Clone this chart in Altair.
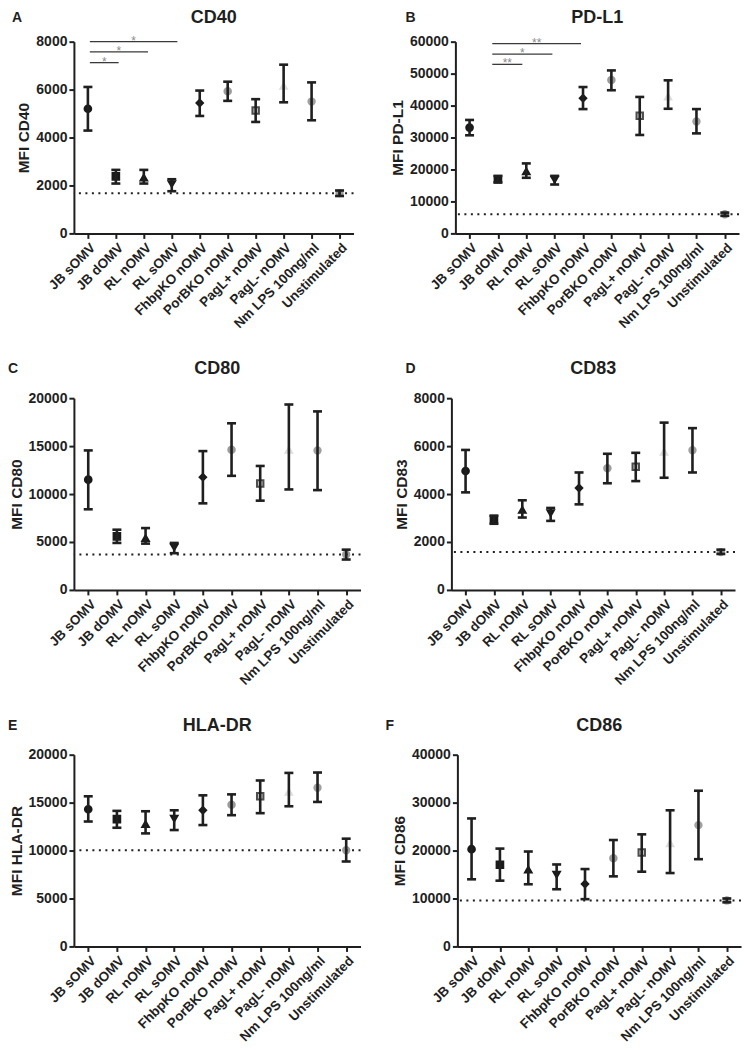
import json
import altair as alt
import pandas as pd

categories = ["JB sOMV", "JB dOMV", "RL nOMV", "RL sOMV", "FhbpKO nOMV",
              "PorBKO nOMV", "PagL+ nOMV", "PagL- nOMV", "Nm LPS 100ng/ml", "Unstimulated"]

# ---- values (mean, lower and upper error) ----
cd40_mean = [5200, 2380, 2330, 2060, 5440, 5930, 5130, 6150, 5500, 1680]
cd40_low = [4290, 2080, 2080, 1760, 4900, 5530, 4650, 5470, 4720, 1560]
cd40_high = [6110, 2650, 2650, 2260, 5960, 6330, 5600, 7040, 6300, 1790]

pdl1_mean = [33100, 16900, 19400, 16800, 42300, 48000, 36800, 42800, 35000, 6000]
pdl1_low = [30700, 16000, 17400, 15300, 38900, 44800, 30800, 39000, 31300, 5500]
pdl1_high = [35500, 18000, 21900, 18000, 45800, 51000, 42700, 47900, 38900, 6500]

cd80_mean = [11500, 5590, 5410, 4450, 11760, 14620, 11100, 14600, 14550, 3690]
cd80_low = [8410, 4900, 4830, 3830, 9030, 11900, 9310, 10480, 10410, 3170]
cd80_high = [14550, 6280, 6450, 4900, 14480, 17380, 12930, 19340, 18620, 4200]

cd83_mean = [4960, 2940, 3340, 3200, 4250, 5080, 5140, 5760, 5830, 1580]
cd83_low = [4070, 2760, 3020, 2880, 3570, 4450, 4540, 4680, 4900, 1500]
cd83_high = [5840, 3100, 3740, 3420, 4900, 5680, 5720, 6980, 6750, 1680]

hla_mean = [14310, 13280, 12760, 13340, 14200, 14790, 15660, 16100, 16550, 10030]
hla_low = [13030, 12380, 11790, 12140, 12660, 13690, 13900, 14620, 15070, 8860]
hla_high = [15660, 14140, 14100, 14200, 15760, 15860, 17310, 18100, 18140, 11240]

cd86_mean = [20280, 17030, 16000, 14970, 13030, 18410, 19590, 21500, 25300, 9590]
cd86_low = [14000, 13720, 12970, 11930, 9860, 14620, 15590, 15310, 18200, 9200]
cd86_high = [26700, 20410, 19800, 17100, 16140, 22200, 23380, 28400, 32480, 10000]

# significance brackets (start / end position on category axis, height, label)
sigA_x1 = [0.07, 0.07, 0.07]
sigA_x2 = [1.1, 2.15, 3.2]
sigA_y = [7125, 7570, 8000]
sigA_lab = ["*", "*", "*"]

sigB_x1 = [0.8, 0.8, 0.8]
sigB_x2 = [1.86, 2.92, 3.93]
sigB_y = [52900, 56100, 59400]
sigB_lab = ["**", "*", "**"]

# ---- marker styles ----
shapes = ["circle", "square", "triangle-up", "triangle-down", "diamond",
          "circle", "square", "triangle-up", "circle", "circle"]
fills = ["#1a1a1a", "#1a1a1a", "#1a1a1a", "#1a1a1a", "#1a1a1a",
         "#9b9b9b", "#cfcfcf", "#dedede", "#a0a0a0", "#9b9b9b"]
strokes = ["#1a1a1a", "#1a1a1a", "#1a1a1a", "#1a1a1a", "#1a1a1a",
           "#9b9b9b", "#4d4d4d", "#dedede", "#a0a0a0", "#9b9b9b"]
sizes = [45, 40, 32, 32, 20, 90, 45, 55, 32, 62]

FONT = "Liberation Sans"
DARK = "#1f1f1f"
H = 192

label_expr = "[" + ",".join(json.dumps(c) for c in categories) + "][datum.value]"
XSCALE = alt.Scale(domain=[-0.5, 9.5], nice=False, zero=False)
XAXIS = alt.Axis(values=list(range(10)), labelExpr=label_expr,
                 labelAngle=-45, labelAlign="right", labelBaseline="top",
                 labelFontSize=13.5, labelOverlap=False, labelFlush=False,
                 labelBound=False, title=None, grid=False)


def panel(letter, letter_dx, head_dy, title, ytitle, means, lows, highs,
          ymax, ystep, width, sig=None):
    df = pd.DataFrame({"idx": list(range(len(categories))), "cat": categories,
                       "mean": means, "low": lows, "high": highs})
    ys = alt.Scale(domain=[0, ymax], nice=False)
    yaxis = alt.Axis(values=list(range(0, ymax + 1, ystep)), format="d",
                     title=ytitle, grid=False, labelOverlap=False, labelFlush=False)

    def X(f):
        return alt.X(f, scale=XSCALE, axis=XAXIS)

    def Y(f):
        return alt.Y(f, scale=ys, axis=yaxis)

    base = alt.Chart(df)
    pts = base.mark_point(opacity=1, filled=True, strokeWidth=2, strokeOpacity=1).encode(
        x=X("idx:Q"), y=Y("mean:Q"),
        shape=alt.Shape("cat:N", scale=alt.Scale(domain=categories, range=shapes), legend=None),
        fill=alt.Fill("cat:N", scale=alt.Scale(domain=categories, range=fills), legend=None),
        stroke=alt.Stroke("cat:N", scale=alt.Scale(domain=categories, range=strokes), legend=None),
        size=alt.Size("cat:N", scale=alt.Scale(domain=categories, range=sizes), legend=None),
    )
    bar = base.mark_rule(color=DARK, strokeWidth=2.6).encode(
        x=X("idx:Q"), y=Y("low:Q"), y2="high:Q")
    cap_hi = base.mark_rule(color=DARK, strokeWidth=2.6, xOffset=-4.5, x2Offset=4.5).encode(
        x=X("idx:Q"), x2="idx:Q", y=Y("high:Q"))
    cap_lo = base.mark_rule(color=DARK, strokeWidth=2.6, xOffset=-4.5, x2Offset=4.5).encode(
        x=X("idx:Q"), x2="idx:Q", y=Y("low:Q"))
    ref = alt.Chart(pd.DataFrame({"v": [means[-1]]})).mark_rule(
        color=DARK, strokeWidth=2, strokeDash=[2, 4.5]).encode(y=Y("v:Q"))
    heads = alt.Chart(pd.DataFrame({"t": [letter], "h": [title]}))
    let = heads.mark_text(
        align="left", baseline="middle", fontSize=14, fontWeight="bold",
        font=FONT, color=DARK).encode(
        x=alt.value(letter_dx), y=alt.value(head_dy), text="t:N")
    ttl = heads.mark_text(
        align="center", baseline="middle", fontSize=18, fontWeight="bold",
        font=FONT, color=DARK).encode(
        x=alt.value(width / 2), y=alt.value(head_dy), text="h:N")
    layers = [pts, ref, bar, cap_hi, cap_lo, let, ttl]
    if sig is not None:
        sdf = pd.DataFrame({"x1": sig[0], "x2": sig[1], "y": sig[2], "lab": sig[3]})
        sb = alt.Chart(sdf)
        layers.append(sb.mark_rule(color="#3a3a3a", strokeWidth=1.3).encode(
            x=X("x1:Q"), x2="x2:Q", y=Y("y:Q")))
        layers.append(sb.transform_calculate(xm="(datum.x1 + datum.x2) / 2").mark_text(
            color="#8a8a8a", fontSize=12, baseline="middle", dy=-1, font=FONT).encode(
            x=X("xm:Q"), y=Y("y:Q"), text="lab:N"))
    return alt.layer(*layers).properties(width=width, height=H)


pA = panel("A", -62, -24, "CD40", "MFI CD40", cd40_mean, cd40_low, cd40_high, 8000, 2000, 280,
           (sigA_x1, sigA_x2, sigA_y, sigA_lab))
pB = panel("B", -50, -24, "PD-L1", "MFI PD-L1", pdl1_mean, pdl1_low, pdl1_high, 60000, 10000, 284,
           (sigB_x1, sigB_x2, sigB_y, sigB_lab))
pC = panel("C", -66, -29, "CD80", "MFI CD80", cd80_mean, cd80_low, cd80_high, 20000, 5000, 287)
pD = panel("D", -46, -29, "CD83", "MFI CD83", cd83_mean, cd83_low, cd83_high, 8000, 2000, 284)
pE = panel("E", -66, -29, "HLA-DR", "MFI HLA-DR", hla_mean, hla_low, hla_high, 20000, 5000, 287)
pF = panel("F", -72, -29, "CD86", "MFI CD86", cd86_mean, cd86_low, cd86_high, 40000, 10000, 284)

chart = alt.vconcat(
    alt.hconcat(pA, pB, spacing=36),
    alt.hconcat(pC, pD, spacing=32),
    alt.hconcat(pE, pF, spacing=24),
    spacing=29,
).properties(padding=0).configure_view(
    stroke=None).configure_axis(
    labelFont=FONT, titleFont=FONT, labelFontWeight="bold", titleFontWeight="bold",
    labelFontSize=14, titleFontSize=15.5, labelColor=DARK, titleColor=DARK,
    domainColor=DARK, tickColor=DARK, domainWidth=2, tickWidth=2, tickSize=5,
    labelPadding=2, titlePadding=4,
)

chart.save("out.html", embed_options={"renderer": "svg", "actions": False})
